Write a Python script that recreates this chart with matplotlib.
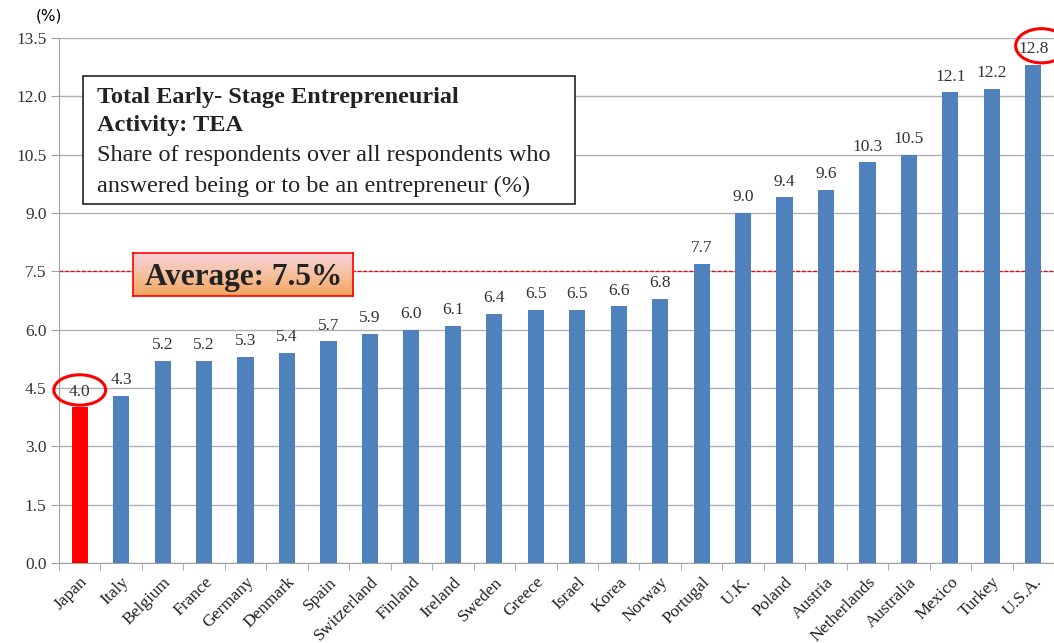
import numpy as np
import matplotlib.pyplot as plt
from matplotlib.patches import Ellipse
from matplotlib.colors import LinearSegmentedColormap

countries = ['Japan', 'Italy', 'Belgium', 'France', 'Germany', 'Denmark', 'Spain',
             'Switzerland', 'Finland', 'Ireland', 'Sweden', 'Greece', 'Israel', 'Korea',
             'Norway', 'Portugal', 'U.K.', 'Poland', 'Austria', 'Netherlands',
             'Australia', 'Mexico', 'Turkey', 'U.S.A.']
tea = [4.0, 4.3, 5.2, 5.2, 5.3, 5.4, 5.7, 5.9, 6.0, 6.1, 6.4, 6.5, 6.5, 6.6,
       6.8, 7.7, 9.0, 9.4, 9.6, 10.3, 10.5, 12.1, 12.2, 12.8]
average = 7.5
yticks = [0.0, 1.5, 3.0, 4.5, 6.0, 7.5, 9.0, 10.5, 12.0, 13.5]

plt.rcParams['font.family'] = ['Liberation Serif', 'DejaVu Serif']

fig = plt.figure(figsize=(10.54, 6.43), dpi=100)
ax = fig.add_axes([0.056, 0.1244, 0.944, 0.8165])

x = np.arange(len(countries))
colors = ['#ff0000'] + ['#4f81bd'] * (len(countries) - 1)
ax.bar(x, tea, width=0.39, color=colors, zorder=3)

for xi, v in zip(x, tea):
    ax.text(xi, v + 0.2, f'{v:.1f}', ha='center', va='bottom', fontsize=12.5,
            color='#333333', zorder=4)

ax.axhline(average, color='#ff0000', lw=0.9, ls=(0, (3, 1.5)), zorder=2)

ax.set_xlim(-0.5, len(countries) - 0.5)
ax.set_ylim(0, 13.5)
ax.set_yticks(yticks)
ax.set_yticklabels([f'{t:.1f}' for t in yticks], fontsize=12.5, color='#333333')
ax.yaxis.grid(True, color='#b0b0b0', lw=1.0, zorder=0)
ax.tick_params(axis='y', length=6, color='#a0a0a0', pad=3)

ax.set_xticks(x)
ax.set_xticklabels(countries, rotation=45, ha='right', rotation_mode='anchor',
                   fontsize=12.5, color='#222222')
ax.tick_params(axis='x', length=0, pad=8)
ax.set_xticks(np.arange(len(countries) + 1) - 0.5, minor=True)
ax.tick_params(axis='x', which='minor', length=5, color='#a0a0a0')

for s in ['top', 'right']:
    ax.spines[s].set_visible(False)
ax.spines['left'].set_color('#a0a0a0')
ax.spines['bottom'].set_color('#a0a0a0')

fig.text(0.034, 0.975, '(%)', fontsize=11, family='DejaVu Sans', ha='left', va='center')

# highlight ellipses around Japan and U.S.A. labels
ax.add_patch(Ellipse((0, 4.45), 1.25, 0.78, fill=False, ec='#ff0000', lw=2.2,
                     zorder=5, clip_on=False))
ax.add_patch(Ellipse((23.2, 13.3), 1.25, 0.88, fill=False, ec='#ff0000', lw=2.2,
                     zorder=5, clip_on=False))

# title box
box = plt.Rectangle((0.079, 0.682), 0.467, 0.2, transform=fig.transFigure,
                    fc='white', ec='#222222', lw=1.2, zorder=1)
fig.patches.append(box)
title_lines = ['Total Early- Stage Entrepreneurial', 'Activity: TEA']
desc_lines = ['Share of respondents over all respondents who',
              'answered being or to be an entrepreneur (%)']
line_y = [97, 125, 156, 186]
for txt, yy in zip(title_lines, line_y[:2]):
    fig.text(0.092, 1 - yy / 643, txt, fontsize=17.5, fontweight='bold',
             color='#222222', va='center')
for txt, yy in zip(desc_lines, line_y[2:]):
    fig.text(0.092, 1 - yy / 643, txt, fontsize=17.5, color='#222222', va='center')

# average label with gradient fill
bax = fig.add_axes([0.1262, 0.540, 0.209, 0.066])
grad = np.linspace(0, 1, 100).reshape(-1, 1)
cmap = LinearSegmentedColormap.from_list('avg', ['#f8d3dc', '#f6c1a0', '#f4a460'])
bax.imshow(grad, aspect='auto', cmap=cmap, extent=[0, 1, 0, 1])
bax.set_xticks([])
bax.set_yticks([])
for s in bax.spines.values():
    s.set_color('#ff0000')
    s.set_linewidth(1.2)
bax.text(0.5, 0.42, 'Average: 7.5%', ha='center', va='center', fontsize=22.5,
         fontweight='bold', color='#222222', transform=bax.transAxes)

fig.savefig('out.png', dpi=100)
